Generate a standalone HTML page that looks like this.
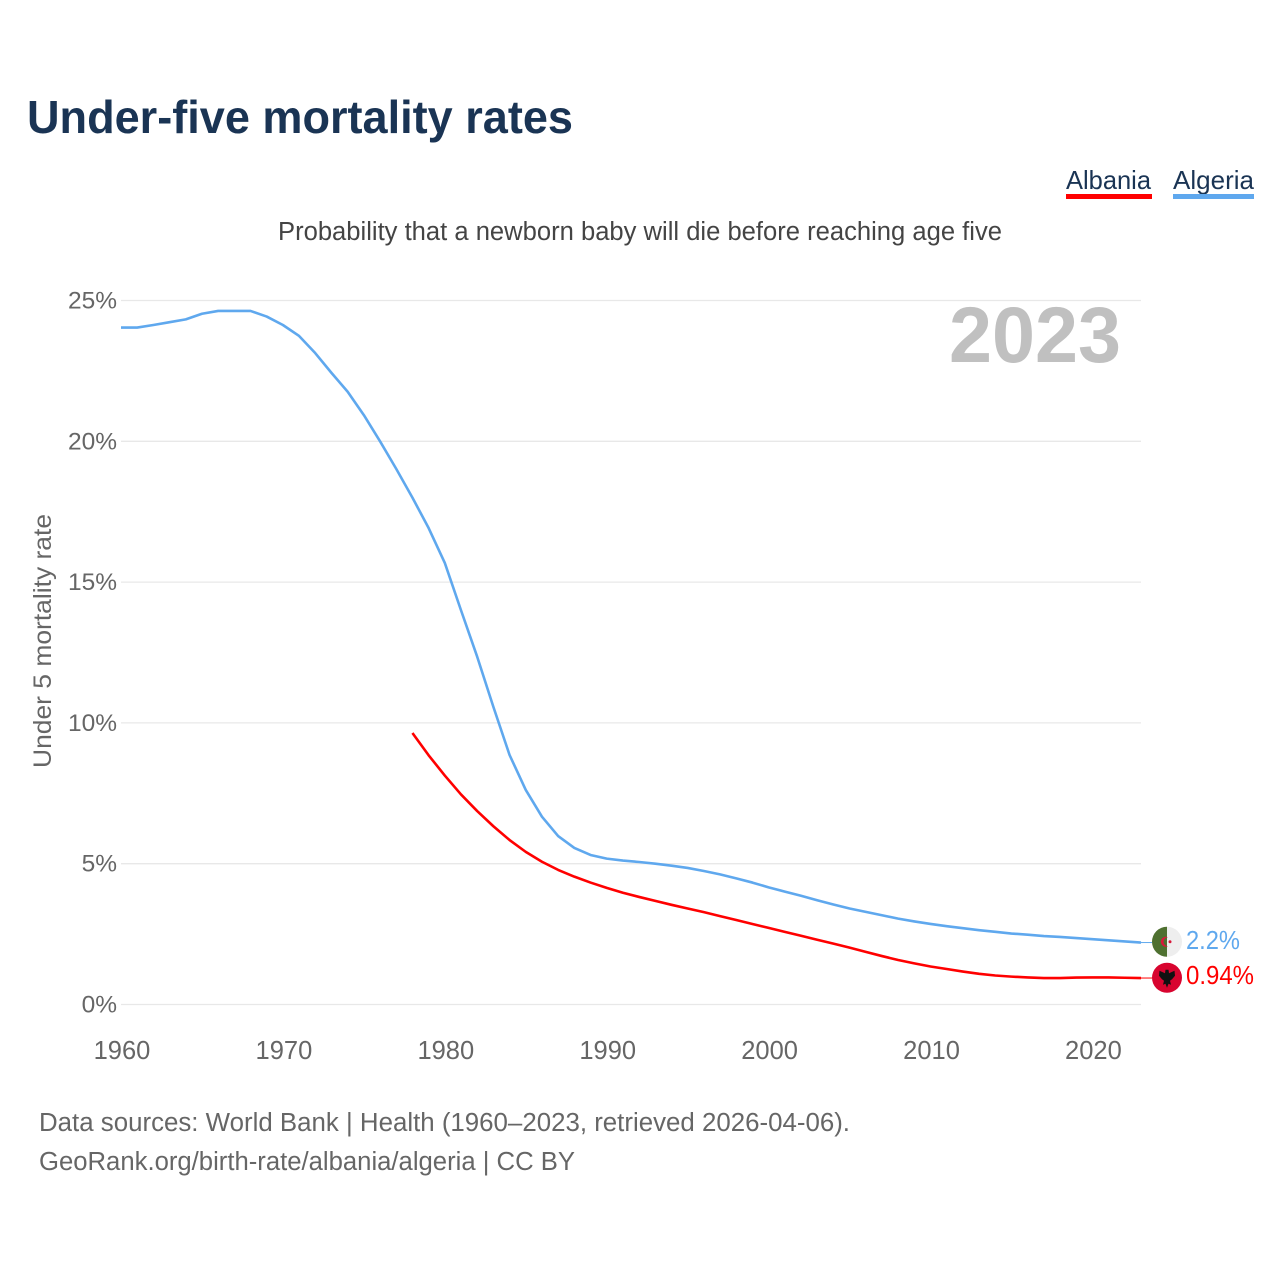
<!DOCTYPE html>
<html lang="en">
<head>
<meta charset="utf-8">
<title>Under-five mortality rates</title>
<style>
  html, body { margin: 0; padding: 0; background: #fff; }
  svg { display: block; font-family: "Liberation Sans", sans-serif; }
</style>
</head>
<body>
<svg id="chart" xmlns="http://www.w3.org/2000/svg" width="1280" height="1280" viewBox="0 0 1280 1280">
  <rect x="0" y="0" width="1280" height="1280" fill="#fff"/>
  <text x="27" y="133" font-size="46" font-weight="700" fill="#1a3454" textLength="546" lengthAdjust="spacingAndGlyphs">Under-five mortality rates</text>

  <g>
    <text x="1066" y="189" font-size="26" fill="#1a3454" textLength="85" lengthAdjust="spacingAndGlyphs">Albania</text>
    <rect x="1066" y="194" width="86" height="5" fill="#ff0000"/>
  </g>
  <g>
    <text x="1173" y="189" font-size="26" fill="#1a3454" textLength="81" lengthAdjust="spacingAndGlyphs">Algeria</text>
    <rect x="1173" y="194" width="81" height="5" fill="#5fa8ee"/>
  </g>

  <text x="278" y="240" font-size="25.5" fill="#444" textLength="724" lengthAdjust="spacingAndGlyphs">Probability that a newborn baby will die before reaching age five</text>

  <g id="grid"></g>
  <text x="949" y="362" font-size="79" font-weight="700" fill="#c0c0c0" textLength="172" lengthAdjust="spacingAndGlyphs">2023</text>
  <g id="yticks"></g>
  <g id="xticks"></g>
  <text transform="translate(51 641) rotate(-90)" text-anchor="middle" font-size="25" fill="#666" textLength="254" lengthAdjust="spacingAndGlyphs">Under 5 mortality rate</text>
  <g id="series"></g>
  <g id="ends"></g>

  <text x="39" y="1131" font-size="25.5" fill="#666" textLength="811" lengthAdjust="spacingAndGlyphs">Data sources: World Bank | Health (1960–2023, retrieved 2026-04-06).</text>
  <text x="39" y="1170" font-size="25.5" fill="#666" textLength="536" lengthAdjust="spacingAndGlyphs">GeoRank.org/birth-rate/albania/algeria | CC BY</text>
</svg>
<script>
const yearStart = 1960;
const yearEnd = 2023;
const xTickYears = [1960, 1970, 1980, 1990, 2000, 2010, 2020];
const yTickValues = [0, 5, 10, 15, 20, 25];
const albaniaStartYear = 1978;
const algeriaStartYear = 1960;
const algeriaValues = [
  24.04, 24.04, 24.13, 24.23, 24.33, 24.53, 24.63, 24.63, 24.63, 24.43,
  24.13, 23.74, 23.13, 22.43, 21.76, 20.93, 20.0, 19.02, 18.0, 16.92,
  15.68, 14.0, 12.35, 10.57, 8.86, 7.62, 6.67, 5.98, 5.56, 5.31,
  5.18, 5.11, 5.06, 5.0, 4.93, 4.85, 4.74, 4.62, 4.48, 4.33,
  4.16, 4.01, 3.86, 3.7, 3.55, 3.41, 3.29, 3.17, 3.05, 2.95,
  2.86, 2.78, 2.71, 2.64, 2.58, 2.52, 2.48, 2.43, 2.4, 2.36,
  2.32, 2.28, 2.24, 2.2
];
const albaniaValues = [
  9.64, 8.85, 8.13, 7.46, 6.87, 6.33, 5.84, 5.42, 5.07, 4.78,
  4.54, 4.33, 4.14, 3.97, 3.82, 3.68, 3.54, 3.41, 3.28, 3.14,
  3.0, 2.86, 2.72, 2.58, 2.44, 2.3, 2.16, 2.02, 1.87, 1.72,
  1.58, 1.46, 1.35, 1.26, 1.17, 1.09, 1.03, 0.99, 0.96, 0.94,
  0.94, 0.955, 0.96, 0.96, 0.95, 0.94
];

const NS = 'http://www.w3.org/2000/svg';
const xScale = year => 121 + (year - yearStart) * (1141 - 121) / (yearEnd - yearStart);
const yScale = value => 1004.5 - value * 28.16;
function make(tag, parent, attrs, text) {
  const el = document.createElementNS(NS, tag);
  Object.keys(attrs).forEach(k => el.setAttribute(k, attrs[k]));
  if (text !== undefined) el.textContent = text;
  parent.appendChild(el);
  return el;
}

const gridGroup = document.getElementById('grid');
const yTickGroup = document.getElementById('yticks');
yTickValues.forEach(v => {
  const line = make('line', gridGroup, { x1: xScale(yearStart), x2: xScale(yearEnd), y1: yScale(v), y2: yScale(v), stroke: '#e8e8e8', 'stroke-width': 1.3 });
  
  
  const label = make('text', yTickGroup, { x: 117, y: yScale(v) + 8, 'text-anchor': 'end', 'font-size': 24.5, fill: '#666' }, v + '%');
  
  
});

const xTickGroup = document.getElementById('xticks');
xTickYears.forEach(y => {
  const label = make('text', xTickGroup, { x: xScale(y) + 1, y: 1059, 'text-anchor': 'middle', 'font-size': 25.5, fill: '#666' }, String(y));
  
  
});

function linePoints(startYear, values) {
  return values.map((v, i) => xScale(startYear + i).toFixed(2) + ',' + yScale(v).toFixed(2)).join(' ');
}
const seriesGroup = document.getElementById('series');
const algeriaLine = make('polyline', seriesGroup, { points: linePoints(algeriaStartYear, algeriaValues), fill: 'none', stroke: '#5fa8ee', 'stroke-width': 2.6, 'stroke-linejoin': 'round' });


const albaniaLine = make('polyline', seriesGroup, { points: linePoints(albaniaStartYear, albaniaValues), fill: 'none', stroke: '#ff0000', 'stroke-width': 2.6, 'stroke-linejoin': 'round' });



const endGroup = document.getElementById('ends');
const flagX = 1167;
const lastAlgeria = algeriaValues[algeriaValues.length - 1];
const lastAlbania = albaniaValues[albaniaValues.length - 1];
const algeriaY = yScale(lastAlgeria);
const albaniaY = yScale(lastAlbania);

const connectorAlgeria = make('line', endGroup, { x1: xScale(yearEnd), x2: flagX - 15, y1: algeriaY, y2: algeriaY, stroke: '#5fa8ee', 'stroke-width': 1 });


const connectorAlbania = make('line', endGroup, { x1: xScale(yearEnd), x2: flagX - 15, y1: albaniaY, y2: albaniaY, stroke: '#ff0000', 'stroke-width': 1 });



const flagAlgeria = make('g', endGroup, { transform: 'translate(' + flagX + ' ' + (algeriaY - 0.8) + ')' });


make('circle', flagAlgeria, { cx: 0, cy: 0, r: 15, fill: '#eeeeee' });
make('path', flagAlgeria, { d: 'M0,-15 A15,15 0 0 0 0,15 Z', fill: '#4e7030' });
make('path', flagAlgeria, { d: 'M1,-4.5 A5,5 0 1 0 1,4.5 A3.8,3.8 0 1 1 1,-4.5 Z', fill: '#d8183a' });
make('circle', flagAlgeria, { cx: 3, cy: 0, r: 1.5, fill: '#d8183a' });

const flagAlbania = make('g', endGroup, { transform: 'translate(' + flagX + ' ' + (albaniaY - 0.3) + ')' });


make('circle', flagAlbania, { cx: 0, cy: 0, r: 15, fill: '#d8042f' });
make('path', flagAlbania, { d: 'M-1.5,-8 L1.5,-8 L2,-4.5 L7.5,-7 L8,-2 L5,1.5 L3,3 L4,7 L1.5,6 L0,10 L-1.5,6 L-4,7 L-3,3 L-5,1.5 L-8,-2 L-7.5,-7 L-2,-4.5 Z', fill: '#111' });

const labelAlgeria = make('text', endGroup, { x: 1186, y: algeriaY + 6.5, 'font-size': 25.5, fill: '#5fa8ee', textLength: 54, lengthAdjust: 'spacingAndGlyphs' }, lastAlgeria + '%');


const labelAlbania = make('text', endGroup, { x: 1186, y: albaniaY + 6, 'font-size': 25.5, fill: '#ff0000', textLength: 68, lengthAdjust: 'spacingAndGlyphs' }, lastAlbania + '%');


</script>
</body>
</html>
